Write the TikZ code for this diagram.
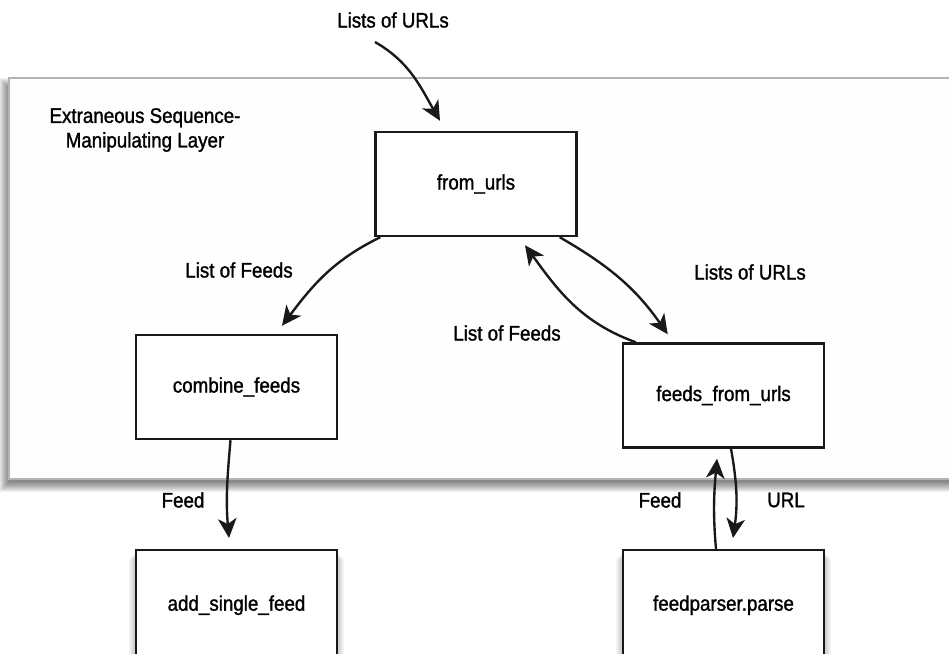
\documentclass[tikz,border=0pt]{standalone}
\usepackage{fontspec}
\setmainfont{Liberation Sans}[FakeStretch=0.89, FakeBold=1.3]
\usepackage{xcolor}
\usetikzlibrary{arrows.meta,positioning,calc}
\definecolor{layerfill}{RGB}{254,254,254}
\definecolor{layeredge}{RGB}{180,180,180}
\tikzset{
  block/.style={rectangle, draw=black!90, line width=1.4pt, fill=white,
                minimum width=4.02cm, minimum height=2.08cm, align=center,
                font=\fontsize{12}{14}\selectfont, inner sep=2pt},
  arrow/.style={-{Stealth[length=3.9mm, width=3.7mm, inset=1.1mm]}, line width=1.35pt, black!90},
  lbl/.style={font=\fontsize{12}{14}\selectfont, align=center},
}

\begin{document}
\begin{tikzpicture}[x=0.02cm, y=-0.02cm]
  \path[clip] (0,0) rectangle (949,653);
  % layer panel with a soft shadow
  \foreach \e in {-4,...,6}
    \fill[black, opacity=0.055] (5-\e,84-\e) rectangle (960,486+\e);
  \draw[layeredge, fill=layerfill, line width=0.9pt] (9,78) rectangle (960,479);
  \node[lbl] (title) at (145,130) {Extraneous Sequence-\\Manipulating Layer};

  % shadows for the two outer boxes
  \foreach \cx in {236.5,723.5}
    \foreach \e in {1,...,7}
      \fill[black, opacity=0.035] ({\cx-100.5-\e},{552+\e}) rectangle ({\cx+100.5+\e},660);

  \node[block] (fromurls) at (476,184) {from\_urls};
  \node[block] (combine) at (236.5,387) {combine\_feeds};
  \node[block] (feedsurls) at (723.5,395.5) {feeds\_from\_urls};
  \node[block, minimum height=2.2cm, anchor=north] (addfeed) at (236.5,549) {add\_single\_feed};
  \node[block, minimum height=2.2cm, anchor=north] (parse) at (723.5,549) {feedparser.parse};

  \node[lbl] (urlsin) at (393,20) {Lists of URLs};
  \node[lbl] (feedsleft) at (239,270) {List of Feeds};
  \node[lbl] (urlsright) at (750,272) {Lists of URLs};
  \node[lbl] (feedsmid) at (507,333) {List of Feeds};
  \node[lbl] (feedleft) at (183,500) {Feed};
  \node[lbl] (feedright) at (660,500) {Feed};
  \node[lbl] (url) at (786,500) {URL};

  \coordinate (urlsrc) at (375,42);
  \draw[arrow] (urlsrc) to[out=-30, in=120] ($(fromurls.north)+(-36,-10)$);
  \draw[arrow] ($(fromurls.south west)+(6,0)$) to[out=-154, in=53] ($(combine.north)+(45.5,-8)$);
  \draw[arrow] ($(fromurls.south east)+(-18,0)$) to[out=-30, in=125] ($(feedsurls.north west)+(46,-8)$);
  \draw[arrow] ($(feedsurls.north west)+(14,0)$) to[out=160, in=-54] ($(fromurls.south)+(49,8)$);
  \draw[arrow] ($(combine.south)+(-6,0)$) to[out=-95, in=95] ($(addfeed.north)+(-7.5,-11)$);
  \draw[arrow] ($(parse.north)+(-7.5,0)$) to[out=95, in=-95] ($(feedsurls.south)+(-6.5,10)$);
  \draw[arrow] ($(feedsurls.south)+(7.5,0)$) to[out=-80, in=82] ($(parse.north)+(9.5,-11)$);
\end{tikzpicture}
\end{document}
